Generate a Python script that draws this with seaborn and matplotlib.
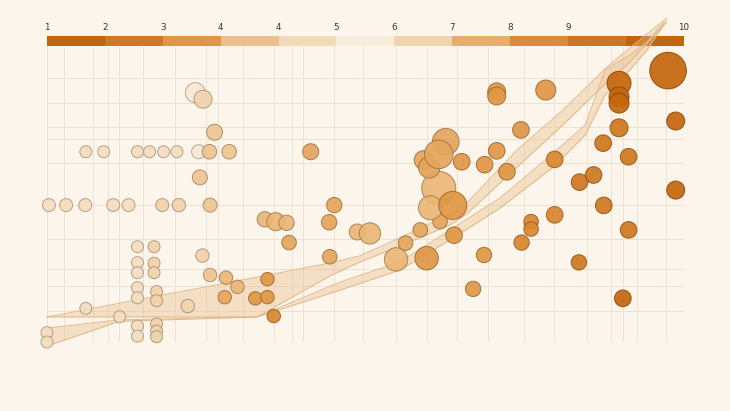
import numpy as np
import pandas as pd
import matplotlib
matplotlib.use("Agg")
import matplotlib.pyplot as plt
import seaborn as sns
from matplotlib.colors import LinearSegmentedColormap, ListedColormap

# ---- point data (x, y on a 0-100 scale; score 1-10 drives colour; area drives size)
x = [23.3, 24.5, 26.3,
     6.1, 8.9, 14.2, 16.1, 18.3, 20.4, 23.8, 25.5, 28.6, 41.4,
     24.0,
     0.3, 3.0, 6.0, 10.4, 12.8, 18.1, 20.7, 25.6,
     34.2, 35.9, 37.6, 38.0, 45.1, 44.3, 48.7, 50.7, 44.4,
     14.2, 14.2, 14.2, 14.2, 14.2, 14.2, 14.2,
     16.8, 16.8, 16.8, 17.2, 17.2, 17.2, 17.2, 17.2,
     24.4, 25.6, 28.1, 29.9, 34.6, 27.9, 32.7, 34.6, 22.1, 6.1, 11.4, 35.6, 0.0, 0.0,
     54.8, 59.6, 56.3, 58.6, 61.7, 63.9, 61.5, 60.2, 63.7,
     59.1, 60.0, 62.6, 61.5, 65.1, 68.7, 70.6, 72.2,
     70.6, 70.6, 78.3, 74.4, 79.7, 76.0, 76.0, 74.5, 79.7, 68.6, 66.9,
     83.6, 85.8, 87.3, 87.4, 83.5,
     89.8, 89.8, 89.8, 89.8, 91.3, 91.3, 90.4, 97.5, 98.7, 98.7]
y = [84.5, 82.3, 71.1,
     64.5, 64.5, 64.5, 64.5, 64.5, 64.5, 64.5, 64.5, 64.5, 64.5,
     55.8,
     46.4, 46.4, 46.4, 46.4, 46.4, 46.4, 46.4, 46.4,
     41.6, 40.8, 40.4, 33.7, 46.4, 40.6, 37.3, 36.8, 28.9,
     32.3, 26.9, 23.5, 18.4, 15.0, 5.4, 2.0,
     32.3, 26.7, 23.5, 17.1, 14.0, 6.1, 3.7, 1.8,
     29.3, 22.7, 21.8, 18.7, 21.3, 15.2, 14.8, 15.2, 12.2, 11.4, 8.6, 8.8, 3.2, 0.0,
     28.0, 28.4, 33.5, 38.0, 40.8, 36.2, 52.1, 45.5, 46.3,
     61.7, 59.2, 67.9, 63.6, 61.1, 60.1, 64.8, 57.7,
     84.8, 83.4, 85.4, 71.9, 61.9, 40.8, 38.3, 33.7, 43.1, 29.5, 18.0,
     54.2, 56.6, 67.4, 46.3, 27.0,
     87.7, 83.1, 81.0, 72.6, 62.8, 38.0, 14.8, 92.0, 74.9, 51.5]
score = [1, 3, 4,
         2, 2, 2, 2, 2, 2, 1, 4, 4, 6,
         4,
         2, 2, 2, 2, 2, 3, 3, 4,
         5, 5, 5, 6, 6, 6, 5, 5, 6,
         2, 2, 2, 2, 2, 2, 2,
         3, 3, 3, 3, 3, 3, 3, 3,
         3, 4, 5, 5, 7, 6, 7, 7, 3, 2, 2, 8, 2, 2,
         5, 7, 6, 6, 6, 7, 5, 5, 7,
         6, 6, 6, 6, 7, 7, 7, 7,
         7, 7, 7, 7, 8, 8, 8, 8, 8, 7, 7,
         9, 9, 9, 9, 9,
         10, 10, 10, 9, 9, 9, 10, 10, 10, 10]
area = [100, 81, 64,
        36, 36, 36, 36, 36, 36, 49, 53, 53, 64,
        56,
        42, 42, 42, 42, 42, 42, 45, 49,
        59, 81, 59, 53, 59, 59, 64, 114, 53,
        36, 36, 36, 36, 36, 36, 36,
        36, 36, 36, 36, 36, 36, 36, 36,
        45, 45, 45, 45, 45, 45, 45, 45, 45, 36, 36, 45, 36, 36,
        137, 137, 53, 53, 53, 69, 289, 144, 196,
        86, 114, 177, 204, 69, 69, 69, 69,
        81, 81, 100, 69, 69, 53, 53, 59, 69, 59, 59,
        69, 69, 69, 69, 59,
        144, 100, 100, 81, 69, 69, 69, 335, 81, 81]

# ---- two trend ribbons
band_a_x = [0, 33.0, 44.4, 49.1, 55.4, 63.3, 65.9, 73.8, 81.0, 87.9, 91.5, 97.3]
band_a_hi = [8.5, 22.0, 26.8, 29.2, 35.3, 43.4, 47.1, 65.1, 78.6, 93.2, 99.7, 109.8]
band_a_lo = [8.5, 8.5, 22.4, 27.1, 32.5, 39.7, 43.4, 59.3, 73.6, 88.1, 94.9, 108.5]
band_b_x = [0, 11.3, 33.0, 46.0, 55.4, 63.3, 71.1, 79.7, 84.5, 87.6, 91.5, 94.2, 96.9]
band_b_hi = [4.7, 7.5, 8.5, 20.3, 27.1, 38.0, 48.8, 64.4, 73.6, 92.2, 97.3, 101.7, 108.5]
band_b_lo = [-1.4, 7.0, 8.5, 17.6, 24.4, 34.6, 45.4, 59.7, 70.2, 83.7, 92.2, 99.0, 107.8]

# ---- irregular grid
grid_x = [0, 2.7, 7.2, 9.6, 11.3, 15.1, 20.1, 25.0, 26.8, 30.8, 35.6, 38.5, 40.2, 45.1,
          49.6, 54.8, 59.7, 64.4, 69.2, 74.9, 79.6, 84.8, 88.5, 90.4, 92.7, 97.2, 100]
grid_y = [0, 10.5, 19.0, 24.7, 34.9, 46.4, 60.7, 68.8, 72.9, 81.0, 89.5]

# ---- colour bar
bar_colors = ['#c0650e', '#cc7925', '#da974d', '#e9c08e', '#f2dbbb', '#f8ecdd',
              '#f0d4b0', '#e5ae6e', '#d78c3c', '#cc7522', '#bf6411']
bar_ticks = [0, 1, 2, 3, 4, 5, 6, 7, 8, 9, 11]
bar_labels = ['1', '2', '3', '4', '4', '5', '6', '7', '8', '9', '10']

bg = '#fcf5eb'
df = pd.DataFrame({'x': x, 'y': y, 'score': score, 'area': area})

sns.set_theme(style='white')
plt.rcParams['font.family'] = ['DejaVu Sans']

fig = plt.figure(figsize=(7.3, 4.11), dpi=100, facecolor=bg)

cax = fig.add_axes([47 / 730, 1 - 46 / 411, 637 / 730, 10 / 411])
cax.imshow(np.arange(len(bar_colors))[None, :], cmap=ListedColormap(bar_colors),
           aspect='auto', extent=(0, 11, 0, 1), interpolation='nearest')
cax.set_xlim(0, 11)
cax.set_yticks([])
cax.set_xticks(bar_ticks)
cax.set_xticklabels(bar_labels, fontsize=6.3, color='#333333')
cax.xaxis.set_ticks_position('top')
cax.tick_params(axis='x', length=0, pad=3)
for s in cax.spines.values():
    s.set_visible(False)

ax = fig.add_axes([47 / 730, 1 - 342 / 411, 637 / 730, 295 / 411])
ax.set_facecolor('none')
ax.set_xlim(0, 100)
ax.set_ylim(0, 100)
ax.set_xticks(grid_x)
ax.set_yticks(grid_y)
ax.set_xticklabels([])
ax.set_yticklabels([])
ax.tick_params(length=0)
ax.grid(True, color='#ece1d2', linewidth=0.7)
for s in ax.spines.values():
    s.set_visible(False)

for bx, hi, lo in [(band_a_x, band_a_hi, band_a_lo), (band_b_x, band_b_hi, band_b_lo)]:
    ax.fill_between(bx, lo, hi, color='#e8c08d', alpha=0.4, linewidth=0, clip_on=False, zorder=2)
    ax.plot(bx, hi, color='#e0b98a', linewidth=0.7, clip_on=False, zorder=2.1)
    ax.plot(bx, lo, color='#e0b98a', linewidth=0.7, clip_on=False, zorder=2.1)

pt_cmap = LinearSegmentedColormap.from_list(
    'pts', ['#f8e8d2', '#f1d0a6', '#e8ae68', '#dc8c34', '#c4660c'])
rmin, rmax = min(area), max(area)
sns.scatterplot(data=df, x='x', y='y', hue='score', palette=pt_cmap, hue_norm=(1, 10),
                size='area', sizes=(2.07 * rmin, 2.07 * rmax), size_norm=(rmin, rmax),
                legend=False, alpha=0.92, ax=ax, zorder=3, clip_on=False)
coll = ax.collections[-1]
fc = coll.get_facecolors()
ec = fc.copy()
ec[:, :3] = ec[:, :3] * 0.7
ec[:, 3] = 0.85
coll.set_edgecolors(ec)
coll.set_linewidths(0.7)
ax.set_xlabel('')
ax.set_ylabel('')

fig.savefig('out.png', dpi=100, facecolor=bg)
